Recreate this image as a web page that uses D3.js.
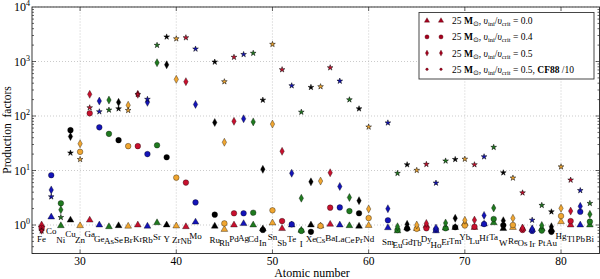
<!DOCTYPE html>
<html>
<head>
<script src="https://d3js.org/d3.v7.min.js"></script>
<style>
  body { margin: 0; background: #fff; font-family: "Liberation Serif", serif; }
</style>
</head>
<body>
<svg id="chart" width="600" height="279"></svg>
<script>
var width = 600, height = 279;

// element symbols and atomic numbers
var symbols = ["Fe","Co","Ni","Cu","Zn","Ga","Ge","As","Se","Br","Kr","Rb","Sr","Y","Zr","Nb","Mo",
  "Ru","Rh","Pd","Ag","Cd","In","Sn","Sb","Te","I","Xe","Cs","Ba","La","Ce","Pr","Nd",
  "Sm","Eu","Gd","Tb","Dy","Ho","Er","Tm","Yb","Lu","Hf","Ta","W","Re","Os","Ir","Pt","Au","Hg","Tl","Pb","Bi"];
var atomicNumbers = [26,27,28,29,30,31,32,33,34,35,36,37,38,39,40,41,42,
  44,45,46,47,48,49,50,51,52,53,54,55,56,57,58,59,60,
  62,63,64,65,66,67,68,69,70,71,72,73,74,75,76,77,78,79,80,81,82,83];

// production factors, v_ini/v_crit = 0.0 (triangles)
var rot00 = [1.0,1.4,0.97,1.23,0.97,1.23,1.0,0.93,0.97,0.95,1.0,0.95,1.1,1.0,0.96,0.93,1.13,
  0.95,0.83,1.0,1.06,1.0,0.85,1.09,0.86,1.0,0.8,1.0,0.96,1.03,1.0,0.97,0.95,0.98,
  0.89,0.78,0.88,0.86,0.98,0.78,0.88,0.9,1.07,0.9,1.04,1.1,0.86,0.9,0.86,0.82,0.86,0.83,1.15,1.0,1.0,1.0];
// v_ini/v_crit = 0.4 (circles)
var rot04 = [0.88,8.2,2.5,55,22,112,62,47,36,28,28,20,29,17.5,7.4,6.0,2.6,
  1.55,1.07,1.64,1.64,1.68,0.81,1.86,1.18,1.03,0.78,0.75,0.96,2.08,2.1,1.8,1.64,1.34,
  1.22,0.81,0.86,0.85,0.87,0.82,0.87,0.91,0.98,0.93,1.04,1.29,0.99,1.0,0.81,0.78,0.79,0.75,1.46,1.18,1.75,1.15];
// v_ini/v_crit = 0.5 (diamonds)
var rot05 = [0.8,4.4,1.9,42,31,250,188,196,178,158,250,178,950,870,470,427,163,
  76,33,80,89,78,10.5,71,22.5,8.9,3.1,6.2,6.4,9.1,5.1,3.2,2.8,1.97,
  1.99,0.93,1.03,1.0,1.07,0.88,1.09,1.33,1.22,1.23,1.5,2.05,1.2,1.33,0.88,0.85,0.98,0.93,2.02,1.8,2.2,1.57];
// v_ini/v_crit = 0.5, CF88 /10 (stars)
var rot05cf = [0.78,3.3,1.38,21,16,142,120,129,136,127,250,203,1990,2830,2620,2740,1700,
  980,427,1200,1350,1420,196,2070,710,360,118,336,346,770,438,199,136,63,
  75,8.9,12.8,10.1,13,5.9,15,16,16.2,12.8,17.9,26.7,9.1,7.3,3.9,1.23,2.3,1.75,11.7,6.7,4.3,2.5];

var xTicks = [30, 40, 50, 60, 70, 80];
var yTicks = [1, 10, 100, 1000, 10000];
var legendValues = ["0.0", "0.4", "0.5", "0.5"];

// colour cycles with Z mod 5
var palette = ["#f0a631", "#c8102e", "#1414b8", "#1f7a1f", "#000000"];

var svg = d3.select("#chart");

var x = d3.scaleLinear().domain([25, 84]).range([32, 599.5]);
var y = d3.scaleLog().domain([0.3, 10000]).range([253.5, 7]);

var x0 = x.range()[0], x1 = x.range()[1], y0 = y.range()[0], y1 = y.range()[1];

// grid
var grid = svg.append("g").attr("stroke", "#b5b5b5").attr("stroke-width", 0.7).attr("stroke-dasharray", "1,2");
xTicks.forEach(function(t) {
  grid.append("line").attr("x1", x(t)).attr("x2", x(t)).attr("y1", y0).attr("y2", y1);
});
yTicks.forEach(function(t) {
  grid.append("line").attr("x1", x0).attr("x2", x1).attr("y1", y(t)).attr("y2", y(t));
});

// ticks (inward, all four sides)
var ticks = svg.append("g").attr("stroke", "#000").attr("stroke-width", 0.6);
xTicks.forEach(function(t) {
  ticks.append("line").attr("x1", x(t)).attr("x2", x(t)).attr("y1", y0).attr("y2", y0 - 4);
  ticks.append("line").attr("x1", x(t)).attr("x2", x(t)).attr("y1", y1).attr("y2", y1 + 4);
});
for (var e = -1; e < 4; e++) {
  for (var m = 1; m < 10; m++) {
    var v = m * Math.pow(10, e);
    if (v < 0.3 || v > 10000) continue;
    var len = m === 1 ? 4 : 2;
    ticks.append("line").attr("x1", x0).attr("x2", x0 + len).attr("y1", y(v)).attr("y2", y(v));
    ticks.append("line").attr("x1", x1).attr("x2", x1 - len).attr("y1", y(v)).attr("y2", y(v));
  }
}

// frame
svg.append("rect").attr("x", x0).attr("y", y1).attr("width", x1 - x0).attr("height", y0 - y1)
  .attr("fill", "none").attr("stroke", "#222").attr("stroke-width", 0.9);

// tick labels
svg.append("g").selectAll("text").data(xTicks).enter().append("text")
  .attr("x", function(d) { return x(d); }).attr("y", 264.5)
  .attr("text-anchor", "middle").attr("font-size", 11.5).text(function(d) { return d; });

var yl = svg.append("g").selectAll("text").data(yTicks).enter().append("text")
  .attr("x", 30).attr("y", function(d) { return y(d) + 4; })
  .attr("text-anchor", "end").attr("font-size", 12);
yl.append("tspan").text("10");
yl.append("tspan").attr("dy", -5).attr("font-size", 8).text(function(d) { return Math.round(Math.log10(d)); });

// axis titles
svg.append("text").attr("x", 312).attr("y", 276.5).attr("text-anchor", "middle").attr("font-size", 12).text("Atomic number");
svg.append("text").attr("transform", "translate(11,130) rotate(-90)").attr("text-anchor", "middle")
  .attr("font-size", 11.5).attr("xml:space", "preserve").text("Production  factors");

// markers
var triangle = d3.symbol().type(d3.symbolTriangle).size(20);
var circle = d3.symbol().type(d3.symbolCircle).size(25);
var star = d3.symbol().type(d3.symbolStar).size(10);
var diamond = "M0,-4L2.2,0L0,4L-2.2,0Z";
var shapes = [triangle(), circle(), diamond, star()];
var legendShapes = [d3.symbol().type(d3.symbolTriangle).size(12)(), d3.symbol().type(d3.symbolCircle).size(14)(),
  "M0,-3L1.6,0L0,3L-1.6,0Z", d3.symbol().type(d3.symbolCircle).size(5)()];
var series = [rot00, rot04, rot05, rot05cf];

var pts = svg.append("g");
series.forEach(function(vals, si) {
  pts.selectAll(null).data(vals).enter().append("path")
    .attr("d", shapes[si])
    .attr("transform", function(d, i) { return "translate(" + x(atomicNumbers[i]) + "," + y(d) + ")"; })
    .attr("fill", function(d, i) { return palette[atomicNumbers[i] % 5]; })
    .attr("stroke", "#000").attr("stroke-width", si === 3 ? 0.5 : 0.35);
});

// element labels below the non-rotating model
svg.append("g").selectAll("text").data(symbols).enter().append("text")
  .attr("x", function(d, i) { return x(atomicNumbers[i]); })
  .attr("y", function(d, i) { return y(rot00[i]) + 17; })
  .attr("text-anchor", "middle").attr("font-size", 9)
  .text(function(d) { return d; });

// legend
var lg = svg.append("g");
lg.append("rect").attr("x", 419).attr("y", 12.5).attr("width", 175).attr("height", 66.5)
  .attr("fill", "#fff").attr("stroke", "#333").attr("stroke-width", 0.9);
legendValues.forEach(function(v, i) {
  var ly = 20.7 + i * 16.2;
  [427, 441].forEach(function(mx) {
    lg.append("path").attr("d", legendShapes[i]).attr("transform", "translate(" + mx + "," + ly + ")")
      .attr("fill", "#a5001e").attr("stroke", "#300").attr("stroke-width", 0.3);
  });
  var t = lg.append("text").attr("x", 452).attr("y", ly + 3.5).attr("font-size", 9.5);
  t.append("tspan").text("25 ");
  t.append("tspan").attr("font-weight", "bold").text("M");
  t.append("tspan").attr("font-size", 7).attr("dy", 2).text("⊙");
  t.append("tspan").attr("dy", -2).text(", ");
  t.append("tspan").attr("font-style", "italic").text("υ");
  t.append("tspan").attr("font-size", 6.5).attr("dy", 2).text("ini");
  t.append("tspan").attr("dy", -2).text("/");
  t.append("tspan").attr("font-style", "italic").text("υ");
  t.append("tspan").attr("font-size", 6.5).attr("dy", 2).text("crit");
  t.append("tspan").attr("dy", -2).text(" = " + v);
  if (i === 3) {
    t.append("tspan").text(", ");
    t.append("tspan").attr("font-weight", "bold").text("CF88");
    t.append("tspan").text(" /10");
  }
});
</script>
</body>
</html>
